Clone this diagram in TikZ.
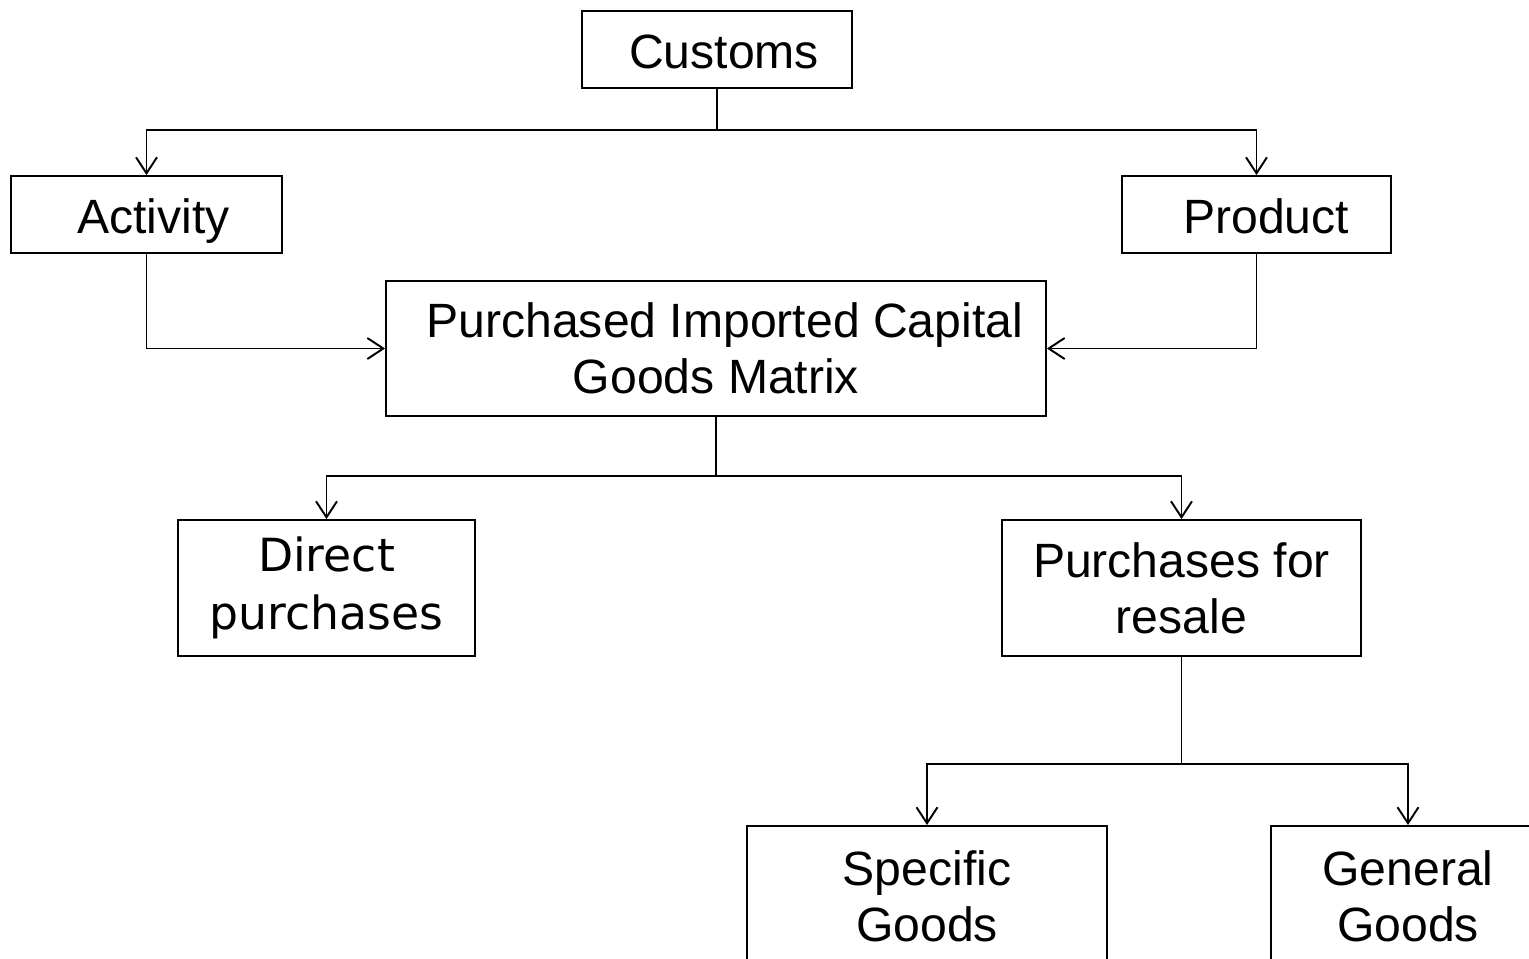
\documentclass[tikz,border=0pt]{standalone}
\usepackage{fontspec}
\setmainfont{Liberation Sans}
\newfontfamily\dejavu{DejaVu Sans}
\usetikzlibrary{arrows.meta}
\begin{document}
\begin{tikzpicture}[x=0.02cm,y=-0.02cm,
  box/.style={draw,line width=1.1pt,align=center,inner sep=0pt,
    font=\fontsize{27.4}{32}\selectfont},
  oneline/.style={text height=21.4pt,text depth=0pt},
  arr/.style={line width=1.1pt,-{Straight Barb[length=0.32cm,width=0.42cm,line width=1.1pt]}},
  ln/.style={line width=1.1pt}]
\useasboundingbox (0,0) rectangle (1529,958);
\clip (0,0) rectangle (1529,958);
\node[box,oneline,minimum width=5.4cm,minimum height=1.54cm] (customs) at (717,49.5) {\hspace{8pt}Customs};
\node[box,oneline,minimum width=5.42cm,minimum height=1.54cm] (activity) at (146.5,214.5) {\hspace{8pt}Activity};
\node[box,oneline,minimum width=5.38cm,minimum height=1.54cm] (product) at (1256.5,214.5) {\hspace{11pt}Product};
\node[box,minimum width=13.2cm,minimum height=2.7cm] (picgm) at (716,348.5) {\hspace{10pt}Purchased Imported Capital\\Goods Matrix};
\node[box,minimum width=5.94cm,minimum height=2.72cm,font=\dejavu\fontsize{26}{33}\selectfont] (direct) at (326.5,588) {Direct\\purchases};
\node[box,minimum width=7.18cm,minimum height=2.72cm] (resale) at (1181.5,588) {Purchases for\\resale};
\node[box,minimum width=7.2cm,minimum height=2.8cm,anchor=north] (specific) at (927,825) {Specific\\Goods};
\node[box,minimum width=5.48cm,minimum height=2.8cm,anchor=north] (general) at (1408,825) {General\\Goods};
\coordinate (j1) at (716,130);
\coordinate (j2) at (716,476);
\coordinate (j3) at (1182,764);
\draw[ln] (customs.south) -- (customs.south |- j1);
\draw[arr] (customs.south |- j1) -| (activity.north);
\draw[arr] (customs.south |- j1) -| (product.north);
\draw[arr] (activity.south) |- (picgm.west);
\draw[arr] (product.south) |- (picgm.east);
\draw[ln] (picgm.south) -- (picgm.south |- j2);
\draw[arr] (picgm.south |- j2) -| (direct.north);
\draw[arr] (picgm.south |- j2) -| (resale.north);
\draw[ln] (resale.south) -- (resale.south |- j3);
\draw[arr] (resale.south |- j3) -| (specific.north);
\draw[arr] (resale.south |- j3) -| (general.north);
\end{tikzpicture}
\end{document}
